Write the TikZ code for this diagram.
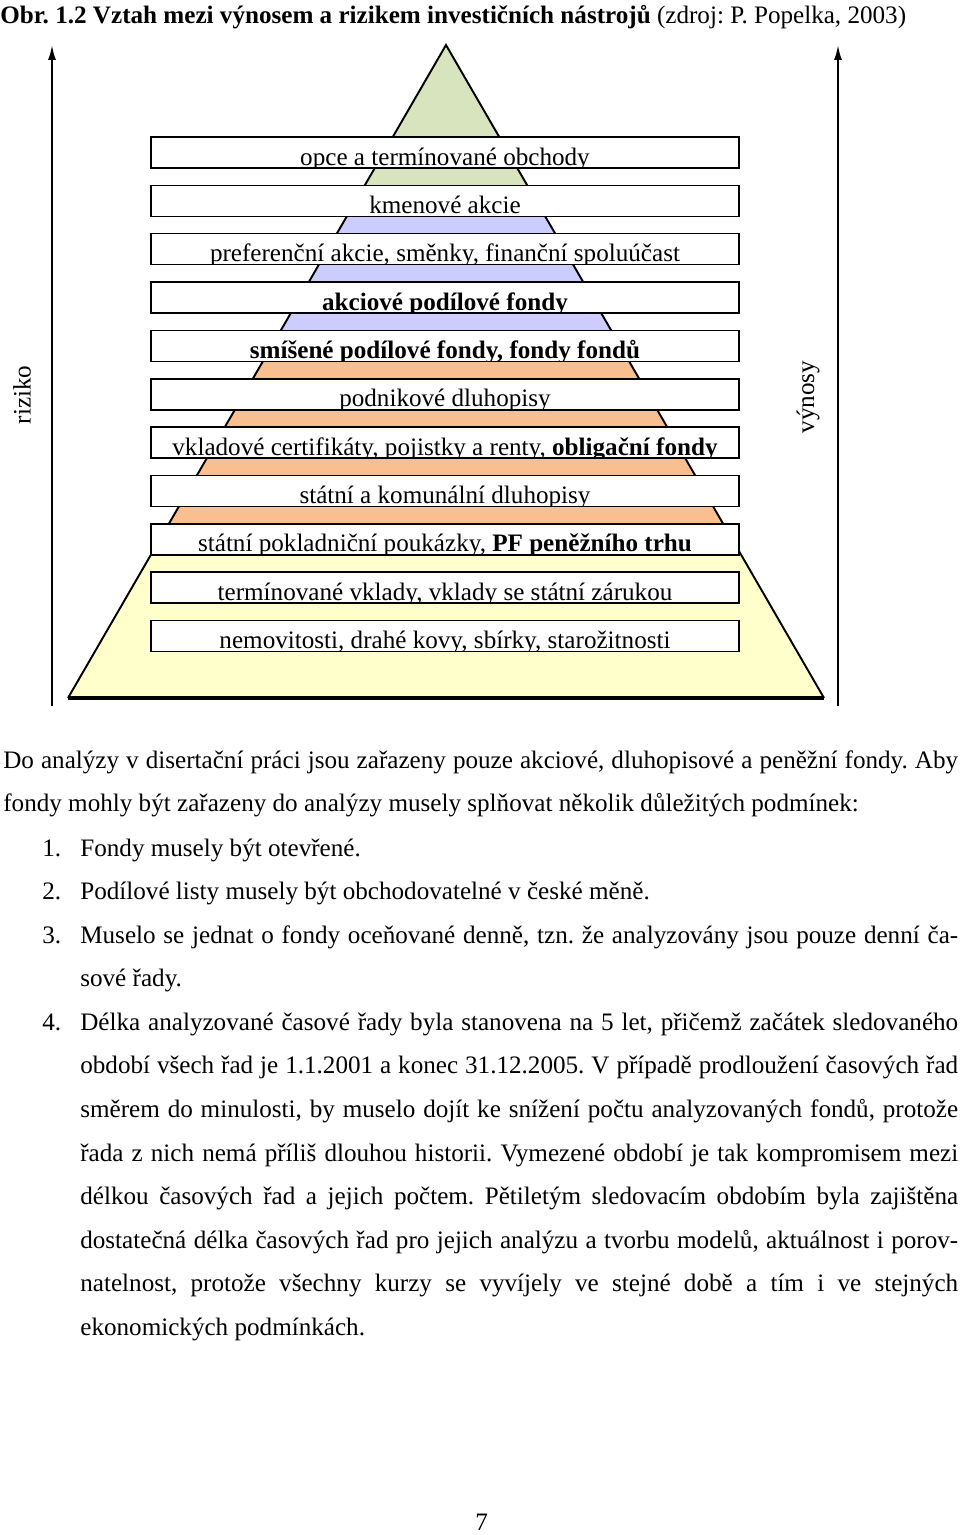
\documentclass[tikz,border=0pt]{standalone}
\usepackage{fontspec}
\setmainfont{Liberation Serif}
\usetikzlibrary{arrows.meta,calc}

\definecolor{pgreen}{RGB}{215,228,189}
\definecolor{pblue}{RGB}{204,204,255}
\definecolor{porange}{RGB}{250,191,143}
\definecolor{pyellow}{RGB}{255,255,204}

\tikzset{
  lvl/.style={draw, line width=0.85pt, fill=white, inner sep=0pt,
    minimum width=11.76cm, minimum height=0.62cm,
    path picture={\node[anchor=base, inner sep=0pt]
      at ([yshift=0.06cm]path picture bounding box.south) {#1};}},
  axarrow/.style={line width=1.1pt, -{Latex[length=0.3cm, width=0.16cm]}},
  pyr/.style={line width=1.1pt, line join=miter},
  txt/.style={anchor=base west, inner sep=0pt, align=justify},
  num/.style={anchor=base west, inner sep=0pt},
}

\begin{document}
\fontsize{14.3}{24.8}\selectfont\frenchspacing
\begin{tikzpicture}[x=0.02cm, y=-0.02cm]
\useasboundingbox (0,0) rectangle (960,1535);
\fill[white] (0,0) rectangle (960,1535);

% title
\node[num] (title) at (0,23) {\textbf{Obr. 1.2 Vztah mezi výnosem a rizikem investičních nástrojů} (zdroj: P. Popelka, 2003)};

% axes
\coordinate (rb) at (52,706);
\coordinate (rt) at (52,45);
\coordinate (vb) at (838,706);
\coordinate (vt) at (838,45);
\draw[axarrow] (rb) -- (rt);
\draw[axarrow] (vb) -- (vt);
\node[rotate=90] (riziko) at (22,395) {riziko};
\node[rotate=90] (vynosy) at (808,397) {výnosy};

% pyramid
\coordinate (apex) at (446,45);
\coordinate (bl) at (68,698);
\coordinate (br) at (824,698);
\begin{scope}
\clip (apex) -- (bl) -- (br) -- cycle;
\fill[pgreen] (0,0) rectangle (960,201);
\fill[pblue] (0,201) rectangle (960,346);
\fill[porange] (0,346) rectangle (960,539);
\fill[pyellow] (0,539) rectangle (960,700);
\end{scope}
\draw[pyr] (bl) -- (apex) -- (br);
\draw[line width=1.8pt] (bl) -- (br);

% levels
\node[lvl={opce a termínované obchody}] (l1) at (445,152.5) {};
\node[lvl={kmenové akcie}] (l2) at (445,200.9) {};
\node[lvl={preferenční akcie, směnky, finanční spoluúčast}] (l3) at (445,249.2) {};
\node[lvl={\textbf{akciové podílové fondy}}] (l4) at (445,297.6) {};
\node[lvl={\textbf{smíšené podílové fondy, fondy fondů}}] (l5) at (445,345.9) {};
\node[lvl={podnikové dluhopisy}] (l6) at (445,394.3) {};
\node[lvl={vkladové certifikáty, pojistky a renty, \textbf{obligační fondy}}] (l7) at (445,442.6) {};
\node[lvl={státní a komunální dluhopisy}] (l8) at (445,491) {};
\node[lvl={státní pokladniční poukázky, \textbf{PF peněžního trhu}}] (l9) at (445,539.3) {};
\node[lvl={termínované vklady, vklady se státní zárukou}] (l10) at (445,587.7) {};
\node[lvl={nemovitosti, drahé kovy, sbírky, starožitnosti}] (l11) at (445,636) {};

% text below
\node[txt, text width=19.1cm] (p1) at (3,768) {Do analýzy v disertační práci jsou zařazeny pouze akciové, dluhopisové a peněžní fondy. Aby\linebreak fondy mohly být zařazeny do analýzy musely splňovat několik důležitých podmínek:};
\node[num] (n1) at (42,856) {1.};
\node[txt, text width=17.56cm] (i1) at (80,856) {Fondy musely být otevřené.};
\node[num] (n2) at (42,899.6) {2.};
\node[txt, text width=17.56cm] (i2) at (80,899.6) {Podílové listy musely být obchodovatelné v české měně.};
\node[num] (n3) at (42,943.2) {3.};
\node[txt, text width=17.56cm] (i3) at (80,943.2) {Muselo se jednat o fondy oceňované denně, tzn. že analyzovány jsou pouze denní ča-\linebreak sové řady.};
\node[num] (n4) at (42,1030.4) {4.};
\node[txt, text width=17.56cm] (i4) at (80,1030.4) {Délka analyzované časové řady byla stanovena na 5 let, přičemž začátek sledovaného\linebreak období všech řad je 1.1.2001 a konec 31.12.2005. V případě prodloužení časových řad\linebreak směrem do minulosti, by muselo dojít ke snížení počtu analyzovaných fondů, protože\linebreak řada z nich nemá příliš dlouhou historii. Vymezené období je tak kompromisem mezi\linebreak délkou časových řad a jejich počtem. Pětiletým sledovacím obdobím byla zajištěna\linebreak dostatečná délka časových řad pro jejich analýzu a tvorbu modelů, aktuálnost i porov-\linebreak natelnost, protože všechny kurzy se vyvíjely ve stejné době a tím i ve stejných\linebreak ekonomických podmínkách.};

% page number
\node[num] (page) at (475,1530) {7};
\end{tikzpicture}
\end{document}
